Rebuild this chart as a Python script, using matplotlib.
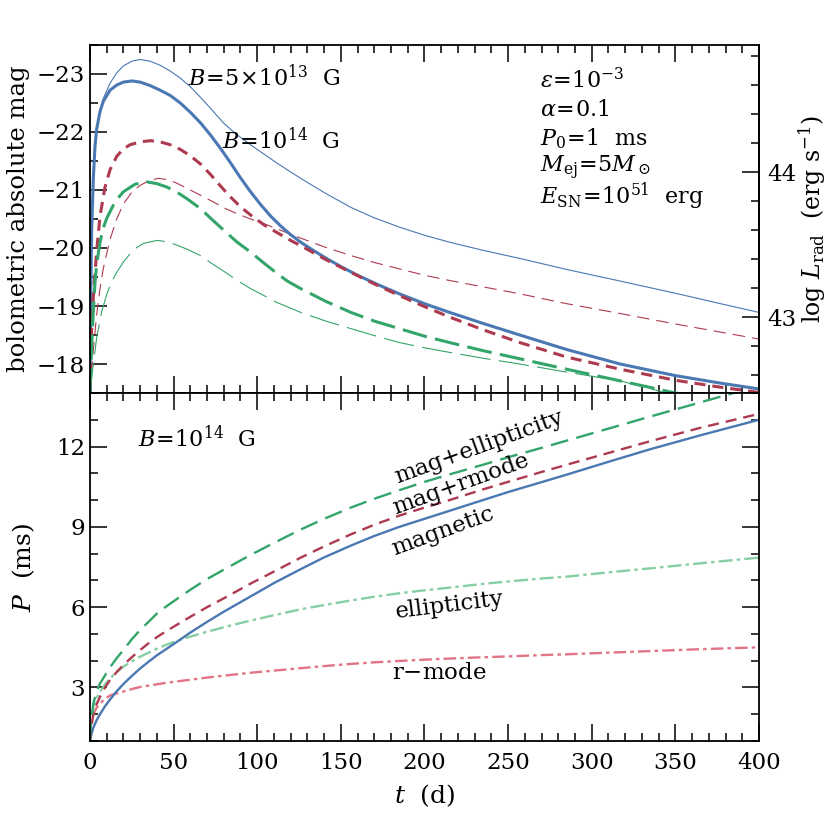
import numpy as np
import matplotlib
matplotlib.use("Agg")
import matplotlib.pyplot as plt
from matplotlib.ticker import MultipleLocator

plt.rcParams['font.family'] = ['DejaVu Serif']
plt.rcParams['mathtext.fontset'] = 'dejavuserif'
plt.rcParams['lines.scale_dashes'] = False

# ---- top panel: bolometric magnitude vs t (d) ----
t_mag_B14 = [0, 0.5, 1, 2, 3, 4, 6, 8, 12, 16, 20, 25, 30, 36, 42, 48, 54, 60, 66, 72, 78, 84,
             90, 96, 102, 108, 114, 120, 126, 134, 142, 150, 160, 172, 185, 200, 215, 235,
             257, 285, 317, 350, 377, 400]
mag_B14 = [-17.5, -19.3, -20.3, -21.2, -21.75, -22.05, -22.35, -22.53, -22.72, -22.81, -22.86,
           -22.88, -22.86, -22.80, -22.72, -22.63, -22.50, -22.34, -22.16, -21.95, -21.72,
           -21.47, -21.21, -20.97, -20.75, -20.55, -20.38, -20.23, -20.10, -19.95, -19.81,
           -19.68, -19.53, -19.37, -19.21, -19.04, -18.89, -18.70, -18.50, -18.25, -18.00,
           -17.80, -17.67, -17.57]

t_mag_B5 = [0, 0.5, 1, 2, 3, 4, 6, 8, 12, 16, 20, 25, 30, 36, 42, 48, 54, 60, 66, 72, 80, 88,
            96, 104, 111, 120, 130, 141, 156, 170, 185, 200, 215, 235, 257, 285, 317, 350,
            377, 400]
mag_B5 = [-17.5, -19.3, -20.3, -21.2, -21.75, -22.05, -22.38, -22.58, -22.84, -23.02, -23.14,
          -23.22, -23.25, -23.22, -23.15, -23.05, -22.93, -22.78, -22.60, -22.41, -22.15,
          -21.95, -21.78, -21.62, -21.48, -21.31, -21.13, -20.94, -20.70, -20.52, -20.36,
          -20.22, -20.10, -19.96, -19.82, -19.63, -19.43, -19.22, -19.04, -18.89]

t_rm_B14 = [0, 1, 2, 3, 4, 6, 9, 12, 16, 20, 24, 30, 36, 42, 48, 54, 60, 66, 72, 78, 84, 90,
            96, 104, 111, 120, 126, 141, 156, 170, 185, 200, 215, 235, 257, 285, 317, 350,
            377, 400]
mag_rm_B14 = [-17.5, -18.6, -19.15, -19.55, -19.95, -20.55, -21.05, -21.35, -21.58, -21.71,
              -21.78, -21.83, -21.85, -21.83, -21.78, -21.70, -21.59, -21.45, -21.27, -21.07,
              -20.88, -20.71, -20.57, -20.40, -20.28, -20.13, -20.04, -19.80, -19.58, -19.38,
              -19.18, -18.99, -18.81, -18.59, -18.37, -18.12, -17.91, -17.72, -17.60, -17.51]

t_rm_B5 = [0, 1, 2, 4, 6, 8, 12, 16, 20, 25, 30, 36, 41, 46, 51, 58, 66, 74, 81, 88, 96, 104,
           111, 126, 141, 156, 170, 185, 200, 215, 235, 257, 285, 317, 350, 377, 400]
mag_rm_B5 = [-17.5, -17.9, -18.25, -18.85, -19.3, -19.65, -20.15, -20.5, -20.76, -20.96,
             -21.08, -21.17, -21.2, -21.18, -21.13, -21.03, -20.91, -20.79, -20.68, -20.59,
             -20.50, -20.42, -20.34, -20.17, -20.01, -19.87, -19.75, -19.64, -19.53, -19.44,
             -19.33, -19.21, -19.04, -18.87, -18.69, -18.55, -18.43]

t_el_B14 = [0, 1, 2, 3, 4, 6, 8, 10, 15, 20, 27, 34, 40, 46, 51, 58, 66, 73, 81, 88, 96, 104,
            111, 118, 126, 141, 156, 170, 185, 200, 215, 235, 257, 285, 317, 350, 380, 400]
mag_el_B14 = [-17.5, -18.3, -18.9, -19.4, -19.72, -20.1, -20.35, -20.51, -20.8, -20.97, -21.1,
              -21.14, -21.11, -21.05, -20.98, -20.85, -20.68, -20.49, -20.28, -20.10, -19.93,
              -19.74, -19.58, -19.43, -19.30, -19.08, -18.89, -18.74, -18.61, -18.48, -18.37,
              -18.23, -18.09, -17.91, -17.71, -17.50, -17.35, -17.25]

t_el_B5 = [0, 2, 4, 7, 10, 13, 16, 20, 26, 32, 40, 46, 51, 58, 66, 73, 81, 88, 96, 104, 111,
           126, 141, 156, 170, 185, 200, 215, 235, 257, 285, 317, 345, 400]
mag_el_B5 = [-17.5, -18.0, -18.45, -18.9, -19.2, -19.42, -19.58, -19.76, -19.97, -20.08,
             -20.13, -20.11, -20.06, -19.98, -19.87, -19.73, -19.58, -19.44, -19.30, -19.18,
             -19.07, -18.89, -18.74, -18.61, -18.49, -18.37, -18.28, -18.20, -18.10, -18.0,
             -17.86, -17.71, -17.5, -17.2]

# ---- bottom panel: spin period P (ms) for B = 1e14 G ----
t_P = [0, 0.5, 1, 2, 4, 6, 9, 12, 16, 20, 25, 30, 35, 40, 45, 50, 60, 70, 80, 96, 110, 126,
       140, 156, 170, 185, 200, 215, 235, 250, 270, 285, 310, 335, 365, 400]
P_mag = [1.0, 1.15, 1.28, 1.5, 1.78, 2.0, 2.3, 2.55, 2.86, 3.13, 3.43, 3.71, 3.96, 4.2, 4.41,
         4.62, 5.05, 5.45, 5.83, 6.4, 6.9, 7.42, 7.86, 8.3, 8.66, 9.0, 9.3, 9.6, 10.0, 10.3,
         10.67, 10.95, 11.43, 11.9, 12.42, 13.0]
P_rmode_mag = [1.0, 1.4, 1.6, 2.0, 2.38, 2.65, 3.0, 3.28, 3.58, 3.84, 4.13, 4.4, 4.65, 4.88,
               5.08, 5.27, 5.64, 6.0, 6.33, 6.88, 7.33, 7.85, 8.27, 8.72, 9.08, 9.42, 9.72,
               10.0, 10.4, 10.68, 11.05, 11.32, 11.76, 12.2, 12.7, 13.22]
P_ell_mag = [1.0, 1.6, 1.85, 2.4, 2.85, 3.15, 3.45, 3.75, 4.1, 4.4, 4.8, 5.15, 5.45, 5.76, 6.0,
             6.22, 6.65, 7.05, 7.4, 7.95, 8.4, 8.9, 9.3, 9.72, 10.05, 10.37, 10.68, 10.96,
             11.32, 11.6, 11.95, 12.22, 12.67, 13.12, 13.65, 14.27]
P_ell = [1.0, 1.5, 1.75, 2.3, 2.62, 2.84, 3.12, 3.34, 3.58, 3.78, 3.98, 4.15, 4.3, 4.45, 4.58,
         4.7, 4.9, 5.08, 5.25, 5.5, 5.7, 5.92, 6.08, 6.25, 6.39, 6.52, 6.63, 6.73, 6.87, 6.96,
         7.07, 7.14, 7.3, 7.45, 7.64, 7.85]
P_rmode = [1.0, 1.45, 1.65, 2.0, 2.25, 2.4, 2.58, 2.7, 2.78, 2.85, 2.94, 3.02, 3.07, 3.12,
           3.17, 3.21, 3.29, 3.37, 3.44, 3.55, 3.63, 3.72, 3.8, 3.88, 3.94, 3.99, 4.04, 4.08,
           4.13, 4.16, 4.21, 4.24, 4.3, 4.36, 4.43, 4.5]

BLUE = '#4a78b3'
RED = '#ad3a4f'
GREEN = '#33a56a'
LGREEN = '#86cfa3'
PINK = '#e27485'


def mag2logL(m):
    return 33.583 + (4.74 - np.asarray(m)) / 2.5


def logL2mag(l):
    return 4.74 - 2.5 * (np.asarray(l) - 33.583)


def style_ticks(ax):
    ax.tick_params(which='both', direction='in', top=True, right=True, labelsize=16.5)
    ax.tick_params(which='major', length=12, width=1.1)
    ax.tick_params(which='minor', length=6, width=1.1)
    ax.tick_params(axis='x', which='both', pad=8)
    for s in ax.spines.values():
        s.set_linewidth(1.3)


fig = plt.figure(figsize=(8.3, 8.3), dpi=100)
ax1 = fig.add_axes([0.1084, 0.5265, 0.806, 0.4193])
ax2 = fig.add_axes([0.1084, 0.1072, 0.806, 0.4193], sharex=ax1)

# top panel
ax1.plot(t_mag_B5, mag_B5, color=BLUE, lw=0.8)
ax1.plot(t_rm_B5, mag_rm_B5, color=RED, lw=0.8, dashes=(9, 5))
ax1.plot(t_el_B5, mag_el_B5, color=GREEN, lw=0.8, dashes=(22, 6))
ax1.plot(t_mag_B14, mag_B14, color=BLUE, lw=2.2)
ax1.plot(t_rm_B14, mag_rm_B14, color=RED, lw=2.2, dashes=(8, 5))
ax1.plot(t_el_B14, mag_el_B14, color=GREEN, lw=2.2, dashes=(18, 6))

ax1.set_xlim(0, 400)
ax1.set_ylim(-17.5, -23.5)
ax1.yaxis.set_major_locator(MultipleLocator(1))
ax1.yaxis.set_minor_locator(MultipleLocator(0.5))
ax1.xaxis.set_major_locator(MultipleLocator(50))
ax1.xaxis.set_minor_locator(MultipleLocator(10))
style_ticks(ax1)
ax1.tick_params(which='both', right=False, labelbottom=False)
ax1.set_ylabel('bolometric absolute mag', fontsize=17.5, labelpad=5)

sec = ax1.secondary_yaxis('right', functions=(mag2logL, logL2mag))
sec.yaxis.set_major_locator(MultipleLocator(1))
sec.yaxis.set_minor_locator(MultipleLocator(0.2))
sec.tick_params(which='both', direction='in', labelsize=16.5, pad=6)
sec.tick_params(which='major', length=12, width=1.1)
sec.tick_params(which='minor', length=6, width=1.1)
sec.spines['right'].set_linewidth(1.3)
sec.set_ylabel(r'log $L_{\rm rad}$  (erg s$^{-1}$)', fontsize=17, labelpad=0)

ax1.text(0.147, 0.906, r'$B\!=\!5\!\times\!10^{13}$  G', transform=ax1.transAxes,
         fontsize=16, va='center', ha='left')
ax1.text(0.197, 0.724, r'$B\!=\!10^{14}$  G', transform=ax1.transAxes,
         fontsize=16, va='center', ha='left')
params = [r'$\varepsilon\!=\!10^{-3}$', r'$\alpha\!=\!0.1$', r'$P_0\!=\!1$  ms',
          r'$M_{\rm ej}\!=\!5M_\odot$', r'$E_{\rm SN}\!=\!10^{51}$  erg']
for i, s in enumerate(params):
    ax1.text(0.673, 0.897 - i * 0.083, s, transform=ax1.transAxes,
             fontsize=16, va='center', ha='left')

# bottom panel
ax2.plot(t_P, P_rmode, color=PINK, lw=1.7, dashes=(9, 3, 2.5, 3))
ax2.plot(t_P, P_ell, color=LGREEN, lw=1.7, dashes=(10, 3, 2.5, 3))
ax2.plot(t_P, P_mag, color=BLUE, lw=1.7)
ax2.plot(t_P, P_rmode_mag, color=RED, lw=1.7, dashes=(8, 5))
ax2.plot(t_P, P_ell_mag, color=GREEN, lw=1.7, dashes=(13, 6))

ax2.set_ylim(1, 14)
ax2.yaxis.set_major_locator(MultipleLocator(3))
ax2.yaxis.set_minor_locator(MultipleLocator(1))
style_ticks(ax2)
ax2.set_xlabel(r'$t$  (d)', fontsize=18, labelpad=6)
ax2.set_ylabel(r'$P$  (ms)', fontsize=18, labelpad=14)

ax2.text(0.072, 0.870, r'$B\!=\!10^{14}$  G', transform=ax2.transAxes,
         fontsize=16, va='center', ha='left')
ax2.text(233, 11.98, 'mag+ellipticity', fontsize=16.5, rotation=20, ha='center', va='center')
ax2.text(222, 10.58, 'mag+rmode', fontsize=16.5, rotation=20, ha='center', va='center')
ax2.text(211, 8.85, 'magnetic', fontsize=16.5, rotation=20, ha='center', va='center')
ax2.text(215, 6.08, 'ellipticity', fontsize=16.5, rotation=7, ha='center', va='center')
ax2.text(209, 3.54, r'r$-$mode', fontsize=16.5, ha='center', va='center')

fig.savefig('out.png', dpi=100)
